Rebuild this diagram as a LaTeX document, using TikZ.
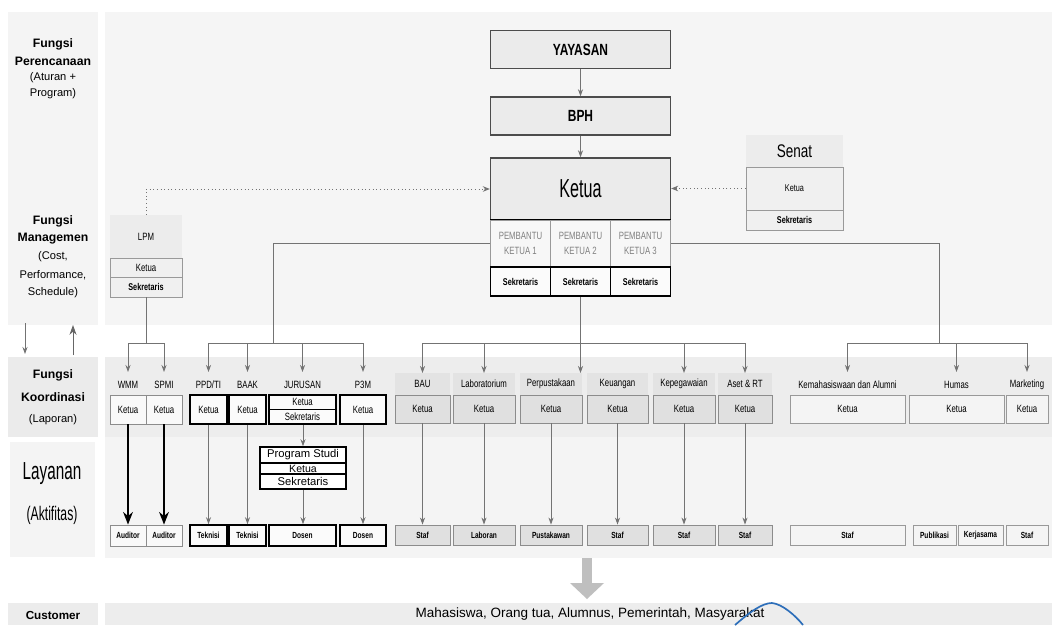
\documentclass[tikz,border=0pt]{standalone}
\usepackage{fontspec}
\setmainfont{Liberation Sans}
\newfontfamily\narf[FakeStretch=0.74]{Liberation Sans}
\newfontfamily\vnarf[FakeStretch=0.62]{Liberation Sans}
\usetikzlibrary{arrows.meta}
\newcommand{\labf}{\narf\fontsize{7.5}{8}\selectfont}
\newcommand{\botf}{\narf\bfseries\fontsize{6.3}{7}\selectfont}
\newcommand{\sekf}{\narf\bfseries\fontsize{7}{8}\selectfont}
\definecolor{lnc}{gray}{0.45}
\tikzset{
  sz/.style 2 args={minimum width=#1*0.025cm, minimum height=#2*0.025cm},
  gbox/.style={draw=black!45, line width=0.6pt, fill=gray!5, inner sep=0pt, font=\labf},
  kbox/.style={draw=black, line width=1.1pt, fill=gray!3, inner sep=0pt, font=\labf},
  dbox/.style={draw=black!45, line width=0.6pt, fill=gray!24, inner sep=0pt, font=\labf},
  lbox/.style={draw=black!40, line width=0.6pt, fill=gray!9, inner sep=0pt, font=\labf},
  hfill/.style={fill=gray!22, inner sep=0pt, font=\labf},
  hdr/.style={inner sep=0pt, font=\labf},
  conn/.style={draw=lnc, line width=0.6pt},
  arr/.style={conn, -{Stealth[length=5pt,width=3.6pt]}},
  barr/.style={draw=black, line width=1.1pt, -{Stealth[length=9pt,width=7pt]}},
  dotarr/.style={draw=lnc, line width=0.6pt, dotted, -{Stealth[length=5pt,width=4pt]}},
  topbox/.style={draw=black!70, line width=1pt, fill=gray!16, inner sep=0pt},
  ltxt/.style={inner sep=0pt, font=\bfseries\fontsize{8.7}{10}\selectfont},
  lsub/.style={inner sep=0pt, font=\fontsize{7.9}{9}\selectfont},
}
\begin{document}
\begin{tikzpicture}[x=0.025cm,y=-0.025cm]
\useasboundingbox (0,0) rectangle (1056,625);
\fill[white] (0,0) rectangle (1056,625);
% ---------- panels ----------
\fill[gray!9]  (8,12) rectangle (98,325);
\fill[gray!16] (8,357) rectangle (98,437);
\fill[gray!9]  (10,442) rectangle (95,557);
\fill[gray!15] (8,603) rectangle (98,625);
\fill[gray!8]  (105,12) rectangle (1052,325);
\fill[gray!14] (105,357) rectangle (1052,437);
\fill[gray!9]  (105,437) rectangle (1052,558);
\fill[gray!14] (105,603) rectangle (1052,625);
% ---------- left column ----------
\node[ltxt] (pf1) at (53,44) {Fungsi};
\node[ltxt] (pf2) at (53,61) {Perencanaan};
\node[lsub] (pf3) at (53,78) {(Aturan +};
\node[lsub] (pf4) at (53,94) {Program)};
\node[ltxt] (mf1) at (53,221) {Fungsi};
\node[ltxt] (mf2) at (53,239) {Managemen};
\node[lsub] (mf3) at (53,257) {(Cost,};
\node[lsub] (mf4) at (53,275) {Performance,};
\node[lsub] (mf5) at (53,293) {Schedule)};
\node[ltxt] (kf1) at (53,375) {Fungsi};
\node[ltxt] (kf2) at (53,397) {Koordinasi};
\node[lsub] (kf3) at (53,420) {(Laporan)};
\node[inner sep=0pt, font=\vnarf\fontsize{17.5}{19}\selectfont] (ly1) at (52,474) {Layanan};
\node[inner sep=0pt, font=\vnarf\fontsize{14}{16}\selectfont] (ly2) at (52,515) {(Aktifitas)};
\node[inner sep=0pt, font=\bfseries\fontsize{8.3}{9}\selectfont] (cus) at (53,615) {Customer};
\coordinate (la1) at (25,323);
\coordinate (la2) at (25,354);
\coordinate (lb1) at (73,355);
\coordinate (lb2) at (73,325);
\draw[arr] (la1) -- (la2);
\draw[draw=black!60, line width=0.7pt, -{Stealth[length=7pt,width=5pt]}] (lb1) -- (lb2);
% ---------- top ----------
\node[topbox, sz={180}{38}, font=\narf\bfseries\fontsize{11.5}{13}\selectfont] (yay) at (580.5,49.5) {YAYASAN};
\node[topbox, sz={180}{38}, font=\narf\bfseries\fontsize{11.5}{13}\selectfont] (bph) at (580.5,116) {BPH};
\node[topbox, sz={180}{62}, font=\vnarf\fontsize{18.5}{20}\selectfont] (ket) at (580.5,189) {Ketua};
\foreach \i/\x in {1/520.5,2/580.5,3/640.5}{
  \node[draw=black!40, line width=0.6pt, fill=gray!6, inner sep=0pt, sz={60}{47}, align=center,
        text=black!50, font=\narf\fontsize{7.5}{10.5}\selectfont] (pb\i) at (\x,243.5) {PEMBANTU\\KETUA \i};
}
\foreach \i/\x in {1/520.5,2/580.5,3/640.5}{
  \node[kbox, sz={60}{29}, font=\sekf] (sk\i) at (\x,281.5) {Sekretaris};
}
\draw[black, line width=1.1pt] (pb1.north west) -- (pb3.north east);
\draw[arr] (yay.south) -- (bph.north);
\draw[arr] (bph.south) -- (ket.north);
% Senat
\node[fill=gray!15, inner sep=0pt, sz={97}{32}, font=\narf\fontsize{13}{15}\selectfont] (snh) at (794.5,151) {Senat};
\node[lbox, sz={97}{43}, fill=gray!12, font=\narf\fontsize{7}{8}\selectfont] (snk) at (794.5,188.5) {Ketua};
\node[lbox, sz={97}{20}, fill=gray!12, font=\sekf] (sns) at (794.5,220) {Sekretaris};
\draw[dotarr] (snk.west) -- (snk.west -| ket.east);
% LPM
\node[fill=gray!15, inner sep=0pt, sz={72}{43}, font=\labf] (lph) at (146,236.5) {LPM};
\node[lbox, sz={72}{19}, fill=gray!12] (lpk) at (146,267.5) {Ketua};
\node[lbox, sz={72}{20}, fill=gray!12, font=\sekf] (lps) at (146,287) {Sekretaris};
\draw[dotarr] (lph.north) |- (ket.west);
% ---------- junctions ----------
\coordinate (jL) at (273,343);
\coordinate (jW) at (146,343);
\coordinate (jM) at (580.5,343);
\coordinate (jR) at (939,343);
\draw[conn] (pb1.west) -| (jL);
\draw[conn] (lps.south) -- (jW);
\draw[conn] (sk2.south) -- (jM);
\draw[conn] (pb3.east) -| (jR);
% ---------- koordinasi: left group ----------
\node[hdr] (wmmh) at (128,385) {WMM};
\node[hdr] (spmh) at (164,385) {SPMI};
\node[hdr] (ppdh) at (208.5,385) {PPD/TI};
\node[hdr] (baah) at (247.5,385) {BAAK};
\node[hdr] (jurh) at (302.5,385) {JURUSAN};
\node[hdr] (p3mh) at (363,385) {P3M};
\node[gbox, sz={36}{29}] (wmmk) at (128,409.5) {Ketua};
\node[gbox, sz={36}{29}] (spmk) at (164,409.5) {Ketua};
\node[kbox, sz={37}{29}] (ppdk) at (208.5,409.5) {Ketua};
\node[kbox, sz={37}{29}] (baak) at (247.5,409.5) {Ketua};
\node[kbox, sz={67}{14.5}] (jurk) at (302.5,402.25) {Ketua};
\node[kbox, sz={67}{14.5}] (jurs) at (302.5,416.75) {Sekretaris};
\node[kbox, sz={46}{29}] (p3mk) at (363,409.5) {Ketua};
\foreach \n/\x in {wmm/128,spm/164,ppd/208.5,baa/247.5,jur/302.5,p3m/363}{
  \coordinate (a\n) at (\x,372);
}
\draw[arr] (jW) -| (awmm);
\draw[arr] (jW) -| (aspm);
\draw[arr] (jL) -| (appd);
\draw[arr] (jL) -| (abaa);
\draw[arr] (jL) -| (ajur);
\draw[arr] (jL) -| (ap3m);
% Program Studi
\node[kbox, sz={86}{16}, fill=white, font=\fontsize{8}{9}\selectfont] (ps1) at (303,455) {Program Studi};
\node[kbox, sz={86}{11}, fill=white, font=\fontsize{7.5}{8}\selectfont] (ps2) at (303,468.5) {Ketua};
\node[kbox, sz={86}{15}, fill=white, font=\fontsize{8}{9}\selectfont] (ps3) at (303,481.5) {Sekretaris};
\draw[arr] (jurs.south -| ps1.north) -- (ps1.north);
% layanan left
\node[gbox, sz={36}{21}, font=\botf] (aud1) at (128,535.5) {Auditor};
\node[gbox, sz={36}{21}, font=\botf] (aud2) at (164,535.5) {Auditor};
\node[kbox, sz={37}{21}, font=\botf] (tek1) at (208.5,535.5) {Teknisi};
\node[kbox, sz={37}{21}, font=\botf] (tek2) at (247.5,535.5) {Teknisi};
\node[kbox, sz={67}{21}, font=\botf] (dos1) at (302.5,535.5) {Dosen};
\node[kbox, sz={46}{21}, font=\botf] (dos2) at (363,535.5) {Dosen};
\draw[barr] (wmmk.south) -- (aud1.north);
\draw[barr] (spmk.south) -- (aud2.north);
\draw[arr] (ppdk.south) -- (tek1.north);
\draw[arr] (baak.south) -- (tek2.north);
\draw[arr] (ps3.south) -- (ps3.south |- dos1.north);
\draw[arr] (p3mk.south) -- (p3mk.south |- dos2.north);
% ---------- koordinasi: middle group ----------
\foreach \n/\x/\w/\h/\b in {bau/422.5/55/BAU/Staf,lab/484/62/Laboratorium/Laboran,per/551/62/Perpustakaan/Pustakawan,keu/617.5/61/Keuangan/Staf,kep/684/62/Kepegawaian/Staf,ase/745/54/Aset \& RT/Staf}{
  \node[hfill, sz={\w}{22}] (\n h) at (\x,384) {\h};
  \node[dbox, sz={\w}{28}] (\n k) at (\x,409) {Ketua};
  \node[dbox, sz={\w}{20}, font=\botf] (\n s) at (\x,535) {\b};
  \draw[arr] (\n k.south) -- (\n s.north);
}
\coordinate (abau) at (422.5,373);
\coordinate (alab) at (484,373);
\coordinate (amid) at (580.5,373);
\coordinate (akep) at (684,373);
\coordinate (aase) at (745,373);
\draw[arr] (jM) -| (abau);
\draw[arr] (jM) -| (alab);
\draw[arr] (jM) -- (amid);
\draw[arr] (jM) -| (akep);
\draw[arr] (jM) -| (aase);
% ---------- koordinasi: right group ----------
\node[hdr] (kemh) at (847.5,385) {Kemahasiswaan dan Alumni};
\node[hdr] (humh) at (956.5,385) {Humas};
\node[hdr] (marh) at (1027,385) {Marketing};
\node[lbox, sz={115}{28}] (kemk) at (847.5,409) {Ketua};
\node[lbox, sz={95}{28}] (humk) at (956.5,409) {Ketua};
\node[lbox, sz={42}{28}] (mark) at (1027,409) {Ketua};
\coordinate (akem) at (847.5,372);
\coordinate (ahum) at (956.5,372);
\coordinate (amar) at (1027,372);
\draw[arr] (jR) -| (akem);
\draw[arr] (jR) -| (ahum);
\draw[arr] (jR) -| (amar);
\node[lbox, sz={115}{20}, font=\botf] (kems) at (847.5,535) {Staf};
\node[lbox, sz={43}{20}, font=\botf] (pubs) at (934.5,535) {Publikasi};
\node[lbox, sz={45}{20}, font=\botf] (kers) at (980.5,535) {Kerjasama};
\node[lbox, sz={42}{20}, font=\botf] (mars) at (1027,535) {Staf};
% ---------- customer ----------
\fill[gray!50] (582,558) rectangle (592,584);
\fill[gray!50] (570,583) -- (604,583) -- (587,599) -- cycle;
\node[inner sep=0pt, font=\fontsize{9.6}{11}\selectfont] (cust) at (590,614) {Mahasiswa, Orang tua, Alumnus, Pemerintah, Masyarakat};
\draw[color={rgb,255:red,45;green,110;blue,185}, line width=1.2pt]
  (735,625) .. controls (750,612) and (762,603) .. (772,603)
  .. controls (782,604) and (795,615) .. (803,625);
\end{tikzpicture}
\end{document}
